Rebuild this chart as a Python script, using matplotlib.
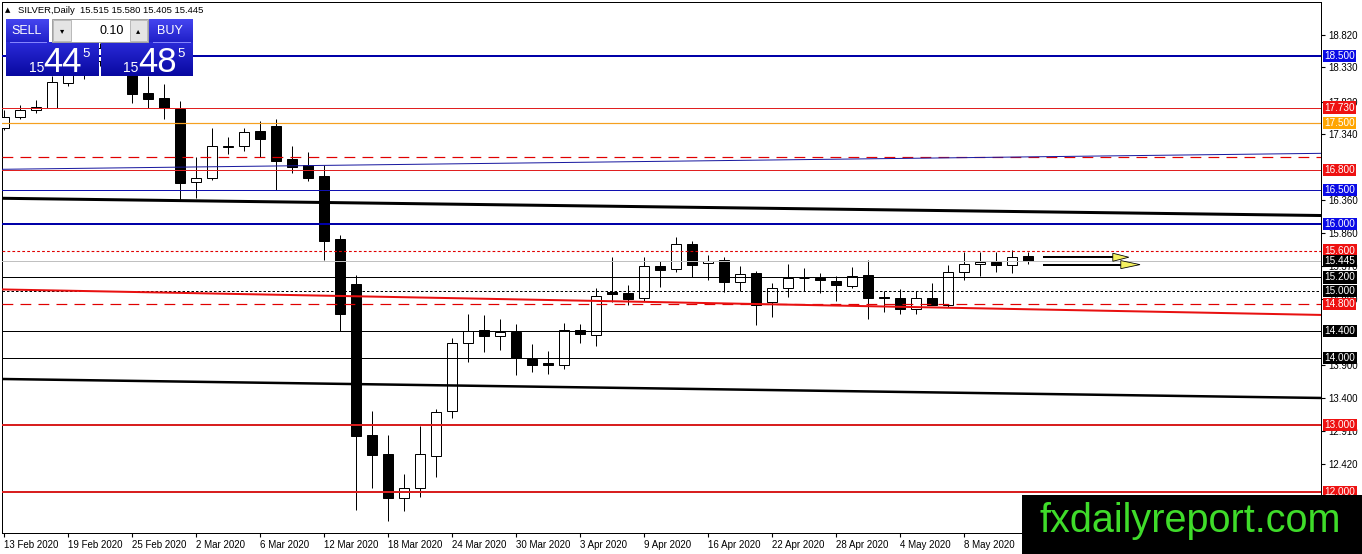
import numpy as np
import matplotlib
matplotlib.use("Agg")
import matplotlib.pyplot as plt
from matplotlib.patches import Rectangle, Polygon
from matplotlib.colors import LinearSegmentedColormap

plt.rcParams['font.family'] = ['Liberation Sans', 'DejaVu Sans']

# ---------------- data ----------------
opens = [17.43, 17.586, 17.69, 17.73, 18.10, 18.25, 18.42, 18.70, 18.50, 17.95,
         17.87, 17.71, 16.617, 16.677, 17.15, 17.154, 17.38, 17.46, 16.965, 16.87,
         16.71, 15.77, 15.10, 12.85, 12.56, 11.915, 12.056, 12.54, 13.21, 14.226,
         14.41, 14.33, 14.39, 13.99, 13.92, 13.90, 14.415, 14.34, 14.98, 14.967,
         14.888, 15.37, 15.32, 15.697, 15.41, 15.459, 15.126, 15.26, 14.83, 15.037,
         15.19, 15.186, 15.146, 15.076, 15.235, 14.907, 14.888, 14.724, 14.897, 14.788,
         15.275, 15.395, 15.425, 15.38, 15.515]
highs = [17.70, 17.77, 17.84, 18.20, 18.32, 18.50, 18.70, 18.93, 18.60, 18.20,
         18.09, 17.83, 17.00, 17.42, 17.29, 17.42, 17.53, 17.56, 17.16, 17.07,
         16.87, 15.83, 15.235, 13.21, 12.85, 12.27, 12.99, 13.24, 14.29, 14.66,
         14.64, 14.58, 14.50, 14.20, 14.10, 14.515, 14.50, 15.04, 15.50, 15.09,
         15.50, 15.44, 15.797, 15.74, 15.54, 15.50, 15.374, 15.295, 15.11, 15.395,
         15.335, 15.26, 15.225, 15.355, 15.459, 14.997, 15.02, 14.99, 15.11, 15.384,
         15.583, 15.574, 15.574, 15.608, 15.580]
lows = [17.40, 17.56, 17.65, 17.73, 18.05, 18.16, 18.35, 18.40, 17.80, 17.72,
        17.56, 16.35, 16.38, 16.65, 17.035, 17.09, 17.00, 16.50, 16.76, 16.63,
        15.46, 14.40, 11.73, 12.06, 11.57, 11.71, 11.93, 12.23, 13.11, 13.94,
        14.09, 14.11, 13.74, 13.79, 13.755, 13.84, 14.217, 14.18, 14.83, 14.79,
        14.85, 15.06, 15.285, 15.21, 15.16, 14.977, 14.997, 14.49, 14.61, 14.91,
        14.99, 14.96, 14.85, 15.04, 14.575, 14.688, 14.65, 14.65, 14.788, 14.763,
        15.16, 15.225, 15.275, 15.26, 15.405]
closes = [17.59, 17.695, 17.735, 18.11, 18.25, 18.42, 18.62, 18.55, 17.93, 17.86,
          17.72, 16.60, 16.677, 17.154, 17.16, 17.36, 17.27, 16.94, 16.84, 16.686,
          15.747, 14.654, 12.84, 12.55, 11.915, 12.056, 12.56, 13.197, 14.226, 14.405,
          14.33, 14.39, 14.00, 13.90, 13.90, 14.415, 14.35, 14.927, 14.955, 14.88,
          15.365, 15.314, 15.697, 15.389, 15.444, 15.126, 15.255, 14.788, 15.037, 15.186,
          15.185, 15.156, 15.086, 15.216, 14.897, 14.888, 14.724, 14.888, 14.788, 15.275,
          15.395, 15.425, 15.38, 15.499, 15.445]

date_labels = ["13 Feb 2020", "19 Feb 2020", "25 Feb 2020", "2 Mar 2020", "6 Mar 2020",
               "12 Mar 2020", "18 Mar 2020", "24 Mar 2020", "30 Mar 2020", "3 Apr 2020",
               "9 Apr 2020", "16 Apr 2020", "22 Apr 2020", "28 Apr 2020", "4 May 2020",
               "8 May 2020"]
date_label_idx = [0, 4, 8, 12, 16, 20, 24, 28, 32, 36, 40, 44, 48, 52, 56, 60]

price_ticks = [18.820, 18.330, 17.820, 17.340, 16.360, 15.860, 15.370,
               14.880, 13.900, 13.400, 12.910, 12.420]

# horizontal levels: value, colour, width(px), style
levels = [
    (18.500, '#0000A8', 2, 'solid'),
    (17.730, '#E02020', 1, 'solid'),
    (17.500, '#F5A020', 1.2, 'solid'),
    (16.994, '#E00000', 1.2, 'longdash'),
    (16.800, '#E02020', 1, 'solid'),
    (16.500, '#1010B0', 1, 'solid'),
    (16.000, '#0000A8', 2, 'solid'),
    (15.600, '#E00000', 1.1, 'dot'),
    (15.445, '#C0C0C0', 1, 'solid'),
    (15.200, '#000000', 1, 'solid'),
    (15.000, '#000000', 1, 'dot'),
    (14.800, '#E00000', 1.2, 'longdash'),
    (14.400, '#000000', 1, 'solid'),
    (14.000, '#000000', 1, 'solid'),
    (13.000, '#D82020', 2, 'solid'),
    (12.000, '#D82020', 2, 'solid'),
]

# price label boxes on the right axis
box_values = [18.500, 17.730, 17.500, 16.800, 16.500, 16.000, 15.600, 15.445,
              15.200, 15.000, 14.800, 14.400, 14.000, 13.000, 12.000]
box_colors = ['#0A0AE6', '#EE1111', '#FFA500', '#EE1111', '#0A0AE6', '#0A0AE6',
              '#EE1111', '#000000', '#000000', '#000000', '#EE1111', '#000000',
              '#000000', '#EE1111', '#EE1111']

# trend lines (price at left edge, price at right edge)
trend_x = [-0.125, 82.31]
trend_blue = [16.811, 17.049]
trend_black_up = [16.379, 16.122]
trend_red = [15.02, 14.64]
trend_black_low = [13.685, 13.402]

# projection arrows (start idx; end idx, tip idx, price)
arrow_start = 64.94
arrow_upper = (69.3, 70.3, 15.50)
arrow_lower = (69.8, 71.0, 15.39)

header = "SILVER,Daily  15.515 15.580 15.405 15.445"

# ---------------- figure ----------------
W, H = 1362, 554
fig = plt.figure(figsize=(W / 100, H / 100), dpi=100)
fig.patch.set_facecolor('white')

px_l, px_r, px_t, px_b = 2, 1321, 2, 533
ax = fig.add_axes([px_l / W, (H - px_b) / H, (px_r - px_l) / W, (px_b - px_t) / H])
PX = 0.72  # points per pixel

xmin = -0.125
xmax = xmin + (px_r - px_l) / 16.0
ppu = 67.08
ytop = 18.5 + (56 - px_t) / ppu
ybot = 18.5 - (px_b - 56) / ppu
ax.set_xlim(xmin, xmax)
ax.set_ylim(ybot, ytop)

idx = np.arange(len(opens))
o = np.array(opens); c = np.array(closes); h = np.array(highs); l = np.array(lows)

# wicks
ax.vlines(idx, l, h, colors='black', linewidth=1 * PX, zorder=2)
# bodies
bull = c >= o
bottoms = np.minimum(o, c)
heights = np.abs(c - o)
ax.bar(idx, heights, bottom=bottoms, width=0.65,
       color=np.where(bull, 'white', 'black'), edgecolor='black',
       linewidth=1 * PX, zorder=3)

# levels
styles = {'solid': '-', 'longdash': (0, (9, 6)), 'dot': (0, (2.5, 2))}
for val, col, wpx, st in levels:
    ax.axhline(val, color=col, linewidth=wpx * PX, linestyle=styles[st], zorder=4)

# trend lines
ax.plot(trend_x, trend_blue, color='#1A1AA0', linewidth=1 * PX, zorder=4)
ax.plot(trend_x, trend_black_up, color='black', linewidth=3 * PX, zorder=4)
ax.plot(trend_x, trend_red, color='#E81010', linewidth=2 * PX, zorder=4)
ax.plot(trend_x, trend_black_low, color='black', linewidth=2.5 * PX, zorder=4)

# arrows
for (x_end, x_tip, p), dp in ((arrow_upper, 0.06), (arrow_lower, 0.06)):
    ax.plot([arrow_start, x_end + 0.2], [p, p], color='black', linewidth=2 * PX,
            zorder=5, solid_capstyle='butt')
    tri = Polygon([[x_end, p + dp], [x_tip, p], [x_end, p - dp]], closed=True,
                  facecolor='#F4F060', edgecolor='black', linewidth=0.8 * PX, zorder=6)
    ax.add_patch(tri)

# axes styling
for s in ax.spines.values():
    s.set_color('black'); s.set_linewidth(1 * PX)
ax.yaxis.tick_right()
ax.set_yticks(price_ticks)
ax.set_yticklabels([f"{v:.3f}" for v in price_ticks])
ax.set_xticks(date_label_idx)
ax.set_xticklabels(date_labels, ha='left')
ax.tick_params(axis='y', length=3, width=0.8, pad=2, labelsize=7, colors='black')
ax.tick_params(axis='x', length=3, width=0.8, pad=2, labelsize=7, colors='black')
for t in ax.get_xticklabels():
    t.set_horizontalalignment('left')

# right-side price boxes
for v, col in zip(box_values, box_colors):
    ax.text(1 + 3.5 / (px_r - px_l), v, f"{v:.3f}", transform=ax.get_yaxis_transform(),
            ha='left', va='center', fontsize=7.2, color='white', zorder=20, clip_on=False,
            bbox=dict(boxstyle='square,pad=0.12', facecolor=col, edgecolor='none'))

# ---------------- overlay (panel, header, watermark) ----------------
ov = fig.add_axes([0, 0, 1, 1], zorder=10)
ov.set_xlim(0, W); ov.set_ylim(H, 0); ov.axis('off'); ov.patch.set_alpha(0)


def grad_rect(x0, y0, x1, y1, ctop, cbot):
    cmap = LinearSegmentedColormap.from_list('g', [ctop, cbot])
    grad = np.linspace(0, 1, 64).reshape(-1, 1)
    ov.imshow(grad, extent=(x0, x1, y1, y0), cmap=cmap, aspect='auto',
              interpolation='bilinear', zorder=11)


grad_rect(6, 19, 49, 42, '#4545F0', '#2020C8')
grad_rect(6, 42, 99, 76, '#2A2AD8', '#0808A0')
grad_rect(149, 19, 193, 42, '#4545F0', '#2020C8')
grad_rect(101, 42, 193, 76, '#2A2AD8', '#0808A0')
ov.plot([10, 46], [41.5, 41.5], color='#8888FF', lw=0.7, zorder=12)
ov.plot([153, 190], [41.5, 41.5], color='#8888FF', lw=0.7, zorder=12)
# lot size field
ov.add_patch(Rectangle((52, 19), 96, 23, facecolor='white', edgecolor='#A0A0A0',
                       lw=0.7, zorder=11))
ov.add_patch(Rectangle((53, 20), 18, 21, facecolor='#E4E4E4', edgecolor='#B0B0B0',
                       lw=0.6, zorder=12))
ov.add_patch(Rectangle((130, 20), 17, 21, facecolor='#E4E4E4', edgecolor='#B0B0B0',
                       lw=0.6, zorder=12))
ov.text(62, 31, '\u25BE', ha='center', va='center', fontsize=6, color='black', zorder=13,
        family='DejaVu Sans')
ov.text(138.5, 30.5, '\u25B4', ha='center', va='center', fontsize=6, color='black', zorder=13,
        family='DejaVu Sans')
ov.text(124, 31, '0.10', ha='right', va='center', fontsize=9, color='black', zorder=13)
ov.text(27, 31, 'SELL', ha='center', va='center', fontsize=9, color='white', zorder=13)
ov.text(170, 31, 'BUY', ha='center', va='center', fontsize=9, color='white', zorder=13)
ov.text(37, 72, '15', ha='center', va='baseline', fontsize=10, color='white', zorder=13)
ov.text(62.5, 72, '44', ha='center', va='baseline', fontsize=25, color='white', zorder=13)
ov.text(86, 57, '5', ha='center', va='baseline', fontsize=9.5, color='white', zorder=13)
ov.text(130.5, 72, '15', ha='center', va='baseline', fontsize=10, color='white', zorder=13)
ov.text(157.5, 72, '48', ha='center', va='baseline', fontsize=25, color='white', zorder=13)
ov.text(181, 57, '5', ha='center', va='baseline', fontsize=9.5, color='white', zorder=13)

# header
ov.text(8, 10.5, '\u25B2', ha='center', va='center', fontsize=5, color='black', zorder=13,
        family='DejaVu Sans')
ov.text(18, 10.5, header, ha='left', va='center', fontsize=6.8, color='black', zorder=13)

# watermark
ov.add_patch(Rectangle((1022, 495), W - 1022, H - 495, facecolor='black',
                       edgecolor='none', zorder=14))
ov.text(1190, 532, 'fxdailyreport.com', ha='center', va='baseline', fontsize=28.5,
        color='#3FDC2A', zorder=15)

fig.savefig('out.png', dpi=100, facecolor='white')
